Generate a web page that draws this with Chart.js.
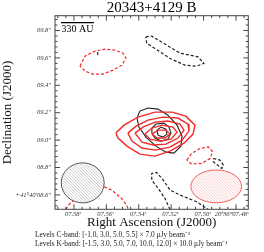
<!DOCTYPE html>
<html>
<head>
<meta charset="utf-8">
<script src="https://cdn.jsdelivr.net/npm/chart.js@4.4.1/dist/chart.umd.min.js"></script>
<style>
  html, body { margin: 0; padding: 0; background: #fff; }
  canvas { display: block; }
</style>
</head>
<body>
<canvas id="myChart" width="264" height="252"></canvas>
<script>
// tick positions and labels (RA seconds, Dec arcsec)
const xTickValues = [7.58, 7.56, 7.54, 7.52, 7.50, 7.48];
const xTickLabels = ["07.58ˢ", "07.56ˢ", "07.54ˢ", "07.52ˢ", "07.50ˢ", "20ʰ36ᵐ07.48ˢ"];
const yTickValues = [8.6, 8.8, 9.0, 9.2, 9.4, 9.6, 9.8];
const yTickLabels = ["+41°40′08.6″", "08.8″", "09.0″", "09.2″", "09.4″", "09.6″", "09.8″"];

// K-band contours (red), [RA s, Dec "]
const kBandLevel3 = [[7.5541,9.051],[7.5491,9.109],[7.5405,9.168],[7.5300,9.204],[7.5195,9.204],[7.5109,9.175],[7.5053,9.109],[7.5065,9.044],[7.5121,8.978],[7.5207,8.920],[7.5300,8.883],[7.5393,8.898],[7.5473,8.956],[7.5528,9.015]];
const kBandLevel5 = [[7.5467,9.051],[7.5417,9.102],[7.5343,9.146],[7.5251,9.168],[7.5158,9.161],[7.5096,9.117],[7.5090,9.066],[7.5133,9.000],[7.5207,8.949],[7.5300,8.927],[7.5380,8.942],[7.5442,8.993]];
const kBandLevel7 = [[7.5423,9.051],[7.5374,9.095],[7.5300,9.131],[7.5220,9.139],[7.5146,9.117],[7.5121,9.073],[7.5158,9.015],[7.5232,8.971],[7.5312,8.964],[7.5380,8.985]];
const kBandLevel10 = [[7.5362,9.044],[7.5319,9.088],[7.5257,9.109],[7.5189,9.095],[7.5164,9.058],[7.5201,9.007],[7.5269,8.993],[7.5331,9.007]];
const kBandLevel12 = [[7.5319,9.044],[7.5281,9.073],[7.5232,9.073],[7.5207,9.044],[7.5238,9.015],[7.5288,9.015]];
const kBandNegA = [[7.5763,9.540],[7.5732,9.613],[7.5670,9.650],[7.5609,9.664],[7.5547,9.657],[7.5498,9.635],[7.5479,9.599],[7.5504,9.547],[7.5559,9.511],[7.5621,9.482],[7.5683,9.482],[7.5732,9.504]];
const kBandNegB = [[7.5104,8.854],[7.5073,8.903],[7.5022,8.939],[7.4971,8.951],[7.4944,8.915],[7.4960,8.866],[7.5012,8.830],[7.5073,8.825]];
const kBandNegC = [[7.5613,8.659],[7.5567,8.635],[7.5506,8.574],[7.5475,8.526],[7.5464,8.494]];
const kBandNegD = [[7.5849,8.494],[7.5835,8.526],[7.5804,8.557]];

// C-band contours (black)
const cBandLevel3 = [[7.5343,9.234],[7.5393,9.212],[7.5411,9.161],[7.5399,9.095],[7.5356,9.022],[7.5294,8.956],[7.5232,8.912],[7.5183,8.905],[7.5140,8.956],[7.5133,9.029],[7.5164,9.109],[7.5220,9.182],[7.5281,9.226]];
const cBandLevel5 = [[7.5319,9.088],[7.5294,9.117],[7.5244,9.124],[7.5214,9.095],[7.5201,9.051],[7.5220,9.007],[7.5263,8.993],[7.5300,9.015],[7.5319,9.051]];
const cBandLevel55 = [[7.5288,9.073],[7.5263,9.095],[7.5232,9.080],[7.5226,9.044],[7.5251,9.022],[7.5281,9.036]];
const cBandNegA = [[7.5357,9.754],[7.5320,9.759],[7.5251,9.710],[7.5146,9.635],[7.5035,9.608],[7.4998,9.560],[7.5043,9.540],[7.5115,9.547],[7.5207,9.596],[7.5300,9.669],[7.5351,9.706]];
const cBandNegB = [[7.5207,8.494],[7.5238,8.574],[7.5280,8.647],[7.5320,8.708],[7.5320,8.757],[7.5290,8.764],[7.5249,8.708],[7.5207,8.635],[7.5146,8.599],[7.5043,8.550],[7.4971,8.494]];
const cBandNegC = [[7.4940,8.866],[7.4899,8.854],[7.4878,8.818],[7.4888,8.793],[7.4915,8.818],[7.4940,8.842]];
const cBandNegD = [[7.5654,9.642],[7.5652,9.606]];

// beams: [RA centre, Dec centre, width (s), height (")]
const beamC = [7.5746, 8.688, 0.0265, 0.292];
const beamK = [7.4922, 8.662, 0.0313, 0.239];
// scale bar: [RA start, RA end, Dec]
const scaleBar = [7.588, 7.5677, 9.858];

const RED = "#f52828";
const BLACK = "#222";

function contour(points, color, dashed, closed, width) {
    const pts = points.map(p => ({ x: p[0], y: p[1] }));
    if (closed) pts.push({ x: points[0][0], y: points[0][1] });
    return {
        data: pts,
        showLine: true,
        borderColor: color,
        borderWidth: width || 1.2,
        borderDash: dashed ? [3, 2] : [],
        pointRadius: 0,
        tension: 0
    };
}

const datasets = [
    contour(kBandLevel3, RED, false, true, 1.4),
    contour(kBandLevel5, RED, false, true, 1.4),
    contour(kBandLevel7, RED, false, true, 1.4),
    contour(kBandLevel10, RED, false, true, 1.4),
    contour(kBandLevel12, RED, false, true, 1.4),
    contour(kBandNegA, RED, true, true),
    contour(kBandNegB, RED, true, true),
    contour(kBandNegC, RED, true, false),
    contour(kBandNegD, RED, true, false),
    contour(cBandLevel3, BLACK, false, true, 1.1),
    contour(cBandLevel5, BLACK, false, true, 1.1),
    contour(cBandLevel55, BLACK, false, true, 1.1),
    contour(cBandNegA, BLACK, true, true),
    contour(cBandNegB, BLACK, true, false),
    contour(cBandNegC, BLACK, true, true),
    contour(cBandNegD, BLACK, true, false)
];

function drawBeam(ctx, chart, beam, edge, hatch) {
    const xs = chart.scales.x, ys = chart.scales.y;
    const cx = xs.getPixelForValue(beam[0]);
    const cy = ys.getPixelForValue(beam[1]);
    const rx = Math.abs(xs.getPixelForValue(beam[0] + beam[2] / 2) - cx);
    const ry = Math.abs(ys.getPixelForValue(beam[1] + beam[3] / 2) - cy);
    ctx.save();
    ctx.beginPath();
    ctx.ellipse(cx, cy, rx, ry, 0, 0, Math.PI * 2);
    ctx.clip();
    ctx.strokeStyle = hatch;
    ctx.lineWidth = 0.6;
    for (let k = -80; k <= 80; k += 3) {
        ctx.beginPath();
        ctx.moveTo(cx + k - 60, cy - 60);
        ctx.lineTo(cx + k + 60, cy + 60);
        ctx.stroke();
    }
    ctx.restore();
    ctx.save();
    ctx.beginPath();
    ctx.ellipse(cx, cy, rx, ry, 0, 0, Math.PI * 2);
    ctx.strokeStyle = edge;
    ctx.lineWidth = 1;
    ctx.stroke();
    ctx.restore();
}

const framePlugin = {
    id: "frame",
    beforeDatasetsDraw(chart) {
        const ctx = chart.ctx;
        drawBeam(ctx, chart, beamC, "#555", "#aaa");
        drawBeam(ctx, chart, beamK, "#f06060", "#f7a8a8");
    },
    afterDraw(chart) {
        const ctx = chart.ctx;
        const a = chart.chartArea;
        const xs = chart.scales.x, ys = chart.scales.y;
        ctx.save();
        ctx.strokeStyle = "#444";
        ctx.lineWidth = 1;
        ctx.strokeRect(a.left, a.top, a.right - a.left, a.bottom - a.top);

        // inside ticks on all four sides
        ctx.beginPath();
        for (let v = 7.475; v <= 7.59; v += 0.005) {
            const px = xs.getPixelForValue(v);
            if (px < a.left || px > a.right) continue;
            const major = Math.abs(Math.round(v * 50) - v * 50) < 1e-6;
            const len = major ? 5 : 2.5;
            ctx.moveTo(px, a.bottom); ctx.lineTo(px, a.bottom - len);
            ctx.moveTo(px, a.top); ctx.lineTo(px, a.top + len);
        }
        for (let v = 8.52; v <= 9.9; v += 0.04) {
            const py = ys.getPixelForValue(v);
            if (py < a.top || py > a.bottom) continue;
            const major = Math.abs(Math.round(v * 5) - v * 5) < 1e-6;
            const len = major ? 5 : 2.5;
            ctx.moveTo(a.left, py); ctx.lineTo(a.left + len, py);
            ctx.moveTo(a.right, py); ctx.lineTo(a.right - len, py);
        }
        ctx.stroke();

        // RA tick labels; the last one is kept inside the frame
        ctx.fillStyle = "#333";
        ctx.font = "italic 6.5px 'Liberation Serif'";
        ctx.textBaseline = "middle";
        xTickValues.forEach((v, i) => {
            const px = xs.getPixelForValue(v);
            const last = i === xTickValues.length - 1;
            ctx.textAlign = last ? "right" : "center";
            ctx.fillText(xTickLabels[i], last ? a.right : px - 1, a.bottom + 5);
        });

        // scale bar
        const x0 = xs.getPixelForValue(scaleBar[0]);
        const x1 = xs.getPixelForValue(scaleBar[1]);
        const sy = ys.getPixelForValue(scaleBar[2]);
        ctx.strokeStyle = "#000";
        ctx.lineWidth = 1.3;
        ctx.beginPath();
        ctx.moveTo(x0, sy); ctx.lineTo(x1, sy);
        ctx.stroke();
        ctx.fillStyle = "#000";
        ctx.font = "10px 'Liberation Serif'";
        ctx.textAlign = "center";
        ctx.fillText("330 AU", (x0 + x1) / 2, sy + 6.5);

        // title
        ctx.font = "15px 'Liberation Serif'";
        ctx.fillText("20343+4129 B", (a.left + a.right) / 2, 8);

        // contour levels note
        ctx.font = "7.4px 'Liberation Serif'";
        ctx.textAlign = "left";
        ctx.fillStyle = "#222";
        ctx.fillText("Levels C-band: [-1.0, 3.0, 5.0, 5.5] × 7.0 μJy beam⁻¹", 35, 235);
        ctx.fillText("Levels K-band: [-1.5, 3.0, 5.0, 7.0, 10.0, 12.0] × 10.0 μJy beam⁻¹", 35, 244);
        ctx.restore();
    }
};

const ctx = document.getElementById("myChart").getContext("2d");
const chartInstance = new Chart(ctx, {
    type: "scatter",
    data: { datasets: datasets },
    options: {
        responsive: false,
        animation: false,
        devicePixelRatio: 1,
        layout: { padding: { top: 15.7, right: 15.7, bottom: 22, left: 0 } },
        plugins: {
            legend: { display: false },
            tooltip: { enabled: false }
        },
        scales: {
            x: {
                type: "linear",
                reverse: true,
                min: 7.4724,
                max: 7.5917,
                afterBuildTicks: s => { s.ticks = xTickValues.map(v => ({ value: v })); },
                afterFit: s => { s.height = 20.7; },
                grid: { display: false, drawTicks: false },
                border: { display: false },
                ticks: { display: false },
                title: {
                    display: true,
                    text: "Right Ascension (J2000)",
                    color: "#111",
                    padding: 0,
                    font: { family: "'Liberation Serif'", size: 13 }
                }
            },
            y: {
                type: "linear",
                min: 8.495,
                max: 9.908,
                afterBuildTicks: s => { s.ticks = yTickValues.map(v => ({ value: v })); },
                afterFit: s => { s.width = 55; },
                grid: { display: false, drawTicks: false },
                border: { display: false },
                ticks: {
                    padding: 4,
                    autoSkip: false,
                    color: "#333",
                    font: { family: "'Liberation Serif'", size: 6.5, style: "italic" },
                    callback: (v, i) => yTickLabels[i]
                },
                title: {
                    display: true,
                    text: "Declination (J2000)",
                    color: "#111",
                    padding: 0,
                    font: { family: "'Liberation Serif'", size: 13 }
                }
            }
        }
    },
    plugins: [framePlugin]
});
</script>
</body>
</html>
